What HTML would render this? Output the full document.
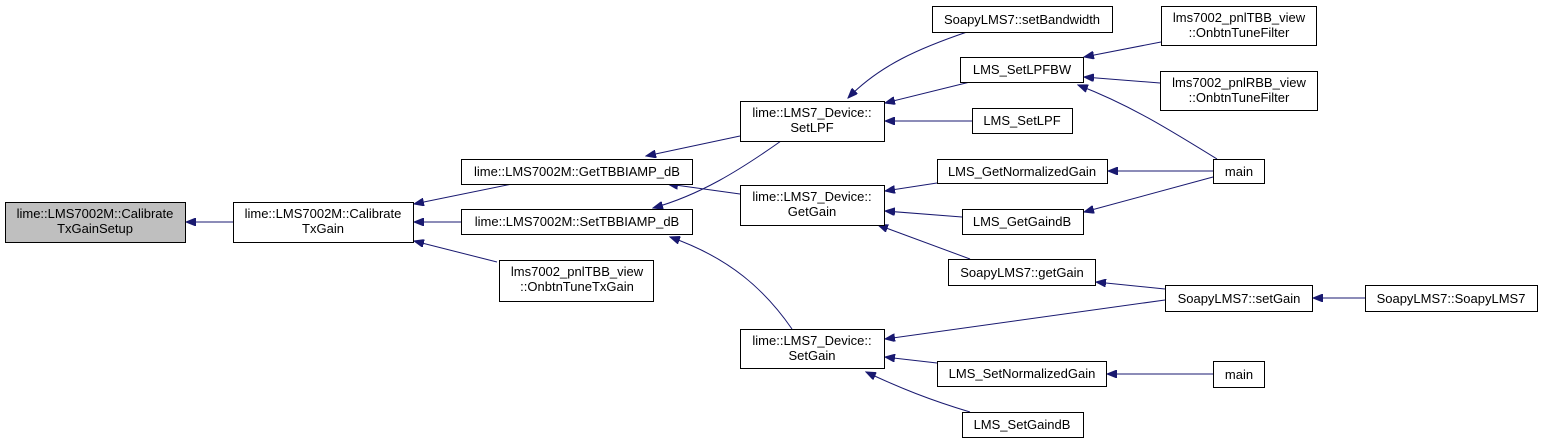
<!DOCTYPE html>
<html><head><meta charset="utf-8"><style>
html,body{margin:0;padding:0;background:#fff;}
svg{display:block;}
text{font-family:"Liberation Sans",Helvetica,sans-serif;font-size:13px;fill:#000;text-anchor:middle;}
rect{fill:#fff;stroke:#000;stroke-width:1;}
.e{fill:none;stroke:#191970;stroke-width:1;marker-end:url(#a);}
</style></head><body>
<svg width="1543" height="443" viewBox="0 0 1543 443" xmlns="http://www.w3.org/2000/svg">
<defs><marker id="a" markerWidth="11" markerHeight="8" refX="10" refY="4" orient="auto" markerUnits="userSpaceOnUse"><path d="M0,0 L10,4 L0,8 Z" fill="#191970" stroke="#191970"/></marker></defs>

<!-- edges -->
<path class="e" d="M233,222 L186,222"/>
<path class="e" d="M512,184 L414,204"/>
<path class="e" d="M461,222 L414,222"/>
<path class="e" d="M497,262 L414,241"/>
<path class="e" d="M740,136 L646,156"/>
<path class="e" d="M740,194 L668,184"/>
<path class="e" d="M781,141 C740,170 700,195 653,208"/>
<path class="e" d="M792,329 C765,290 730,258 670,237"/>
<path class="e" d="M967,32 C920,48 880,65 848,98"/>
<path class="e" d="M970,82 L885,103"/>
<path class="e" d="M972,121 L885,121"/>
<path class="e" d="M937,183 L885,191"/>
<path class="e" d="M962,217 L885,211"/>
<path class="e" d="M970,259 L878,225"/>
<path class="e" d="M1165,300 L885,339"/>
<path class="e" d="M937,363 L885,357"/>
<path class="e" d="M970,412 C930,400 900,388 866,372"/>
<path class="e" d="M1161,42 L1084,57"/>
<path class="e" d="M1160,83 L1084,77"/>
<path class="e" d="M1217,159 C1170,130 1130,105 1078,85"/>
<path class="e" d="M1213,171 L1108,171"/>
<path class="e" d="M1213,177 L1084,212"/>
<path class="e" d="M1165,289 L1096,282"/>
<path class="e" d="M1365,298 L1313,298"/>
<path class="e" d="M1213,374 L1107,374"/>

<!-- nodes -->
<rect x="5.5" y="202.5" width="180" height="40" style="fill:#bfbfbf"/>
<text x="95" y="218">lime::LMS7002M::Calibrate</text><text x="95" y="233">TxGainSetup</text>
<rect x="233.5" y="202.5" width="180" height="40"/>
<text x="323" y="218">lime::LMS7002M::Calibrate</text><text x="323" y="233">TxGain</text>
<rect x="461.5" y="159.5" width="231" height="25"/>
<text x="577" y="176">lime::LMS7002M::GetTBBIAMP_dB</text>
<rect x="461.5" y="209.5" width="231" height="25"/>
<text x="577" y="226">lime::LMS7002M::SetTBBIAMP_dB</text>
<rect x="499.5" y="260.5" width="154" height="41"/>
<text x="577" y="276">lms7002_pnlTBB_view</text><text x="577" y="291">::OnbtnTuneTxGain</text>
<rect x="740.5" y="101.5" width="144" height="40"/>
<text x="812" y="117">lime::LMS7_Device::</text><text x="812" y="132">SetLPF</text>
<rect x="740.5" y="185.5" width="144" height="40"/>
<text x="812" y="201">lime::LMS7_Device::</text><text x="812" y="216">GetGain</text>
<rect x="740.5" y="329.5" width="144" height="39"/>
<text x="812" y="345">lime::LMS7_Device::</text><text x="812" y="360">SetGain</text>
<rect x="932.5" y="6.5" width="180" height="26"/>
<text x="1022" y="24">SoapyLMS7::setBandwidth</text>
<rect x="960.5" y="57.5" width="123" height="25"/>
<text x="1022" y="74">LMS_SetLPFBW</text>
<rect x="972.5" y="108.5" width="100" height="25"/>
<text x="1022" y="125">LMS_SetLPF</text>
<rect x="937.5" y="159.5" width="170" height="24"/>
<text x="1022" y="176">LMS_GetNormalizedGain</text>
<rect x="962.5" y="209.5" width="121" height="25"/>
<text x="1022" y="226">LMS_GetGaindB</text>
<rect x="948.5" y="259.5" width="147" height="26"/>
<text x="1022" y="277">SoapyLMS7::getGain</text>
<rect x="937.5" y="361.5" width="169" height="25"/>
<text x="1022" y="378">LMS_SetNormalizedGain</text>
<rect x="962.5" y="412.5" width="121" height="25"/>
<text x="1022" y="429">LMS_SetGaindB</text>
<rect x="1161.5" y="6.5" width="155" height="39"/>
<text x="1239" y="22">lms7002_pnlTBB_view</text><text x="1239" y="37">::OnbtnTuneFilter</text>
<rect x="1160.5" y="71.5" width="157" height="39"/>
<text x="1239" y="87">lms7002_pnlRBB_view</text><text x="1239" y="102">::OnbtnTuneFilter</text>
<rect x="1213.5" y="159.5" width="51" height="24"/>
<text x="1239" y="176">main</text>
<rect x="1165.5" y="285.5" width="147" height="26"/>
<text x="1239" y="303">SoapyLMS7::setGain</text>
<rect x="1365.5" y="285.5" width="172" height="26"/>
<text x="1451" y="303">SoapyLMS7::SoapyLMS7</text>
<rect x="1213.5" y="361.5" width="51" height="26"/>
<text x="1239" y="379">main</text>
</svg>
</body></html>
